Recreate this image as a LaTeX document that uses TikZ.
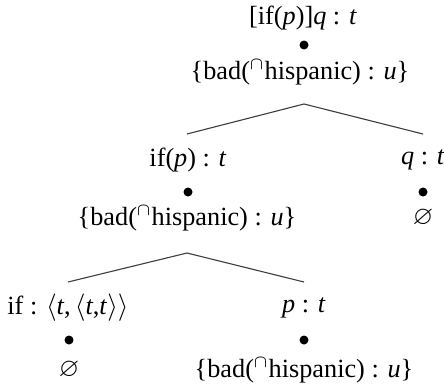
\documentclass[tikz,border=0pt]{standalone}
\usepackage{amssymb}
\usepackage{fontspec}
\setmainfont{Liberation Serif}
\newcommand{\tv}[1]{\textit{#1}}
\newcommand{\badset}{\{bad($^{\cap}$hispanic) : \tv{u}\}}
\tikzset{
  lab/.style={
    inner sep=1pt,
    font=\fontsize{10.5}{12}\selectfont
  },
  pt/.style={
    circle,
    fill=black,
    inner sep=0pt,
    minimum size=3.6pt
  },
  branch/.style={
    draw=black!75,
    line width=0.45pt
  }
}

\begin{document}
\begin{tikzpicture}[x=0.4pt, y=-0.4pt]
    \useasboundingbox (0,0) rectangle (444,387);

    % root
    \node[lab] (rootlab) at (303,18) {[if(\tv{p})]\tv{q} : \tv{t}};
    \node[pt] (rootdot) at (304,45) {};
    \node[lab] (rootset) at (300,72) {\badset};
    \coordinate (apex1) at (304,104);

    % if(p) and q
    \node[lab] (ifplab) at (188,160) {if(\tv{p}) : \tv{t}};
    \node[pt] (ifpdot) at (188,192) {};
    \node[lab] (ifpset) at (187,218) {\badset};
    \node[lab] (qlab) at (423,160) {\tv{q} : \tv{t}};
    \node[pt] (qdot) at (423,192) {};
    \node[lab] (qset) at (423,218) {$\varnothing$};
    \coordinate (ifptop) at (187,134);
    \coordinate (qtop) at (423,134);
    \coordinate (apex2) at (187,253);

    % if and p
    \node[lab] (iflab) at (68,308) {if : $\langle$\tv{t},\,$\langle$\tv{t},\tv{t}$\rangle\rangle$};
    \node[pt] (ifdot) at (69,340) {};
    \node[lab] (ifset) at (69,370) {$\varnothing$};
    \node[lab] (plab) at (304,308) {\tv{p} : \tv{t}};
    \node[pt] (pdot) at (304,340) {};
    \node[lab] (pset) at (304,370) {\badset};
    \coordinate (iftop) at (68,282);
    \coordinate (ptop) at (304,282);

    \draw[branch] (ifptop) -- (apex1) -- (qtop);
    \draw[branch] (iftop) -- (apex2) -- (ptop);
\end{tikzpicture}
\end{document}
